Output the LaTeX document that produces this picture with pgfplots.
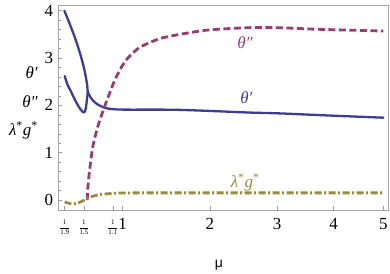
\documentclass[border=0pt]{standalone}
\usepackage{amsmath}
\usepackage{fontspec}
\setmainfont{Liberation Serif}
\newfontfamily\sansf{Liberation Sans}
\usepackage{pgfplots}
\pgfplotsset{compat=1.18}
\definecolor{mblue}{rgb}{0.24,0.24,0.6}
\definecolor{mmag}{rgb}{0.6,0.24,0.442}
\definecolor{molive}{rgb}{0.6,0.547,0.24}
\newcommand\fr[1]{{\fontsize{7}{8}\selectfont$\dfrac{\text{1}}{\text{#1}}$}}
\begin{document}
\begin{tikzpicture}
\useasboundingbox (-58.3bp,-64bp) rectangle (331.7bp,210bp);
\begin{axis}[
 at={(0,0)}, anchor=south west, scale only axis,
 width=329.7bp, height=205bp,
 x coord trafo/.code={\pgfmathparse{sqrt(#1)}},
 x coord inv trafo/.code={\pgfmathparse{(#1)^2}},
 xmin=0.4834, xmax=5.10, ymin=-0.21, ymax=4.12,
 xtick={0.526316,0.666667,0.909091,1,2,3,4,5},
 xticklabels={\fr{1.9},\fr{1.5},\fr{1.1},1,2,3,4,5},
 ytick={0,1,2,3,4},
 minor y tick num=4,
 tick pos=left, tick align=inside,
 major tick length=4bp, minor tick length=2.5bp,
 tick style={gray!80, line width=0.5bp},
 axis line style={gray!70, line width=0.6bp},
 tick label style={font=\fontsize{17}{20}\selectfont},
 /pgf/number format/assume math mode=true,
 xticklabel style={anchor=base, yshift=-19.5bp},
 yticklabel style={anchor=east, inner sep=0pt, xshift=-5bp},
 clip=false,
]
% theta' upper branch
\addplot[mblue, line width=2.3bp, smooth, line join=round, line cap=round] coordinates {
(0.5239,4.0) (0.5504,3.805) (0.5783,3.594) (0.6047,3.383) (0.6293,3.171) (0.6515,2.960) (0.6708,2.748) (0.6834,2.579) (0.6921,2.431) (0.6969,2.283)};
% theta' lower branch
\addplot[mblue, line width=2.3bp, smooth, line join=round, line cap=round] coordinates {
(0.5263,2.62) (0.5469,2.43) (0.5711,2.29) (0.5951,2.14) (0.6195,2.01) (0.6453,1.90) (0.6654,1.85) (0.6786,1.90) (0.6889,2.08) (0.6969,2.283)};
% theta' right branch
\addplot[mblue, line width=2.3bp, smooth, line join=round, line cap=round] coordinates {
(0.6969,2.283) (0.7242,2.15) (0.7653,2.04) (0.8359,1.95) (0.9098,1.92) (1.019,1.91) (1.3834,1.91) (1.6165,1.905) (2.041,1.88) (2.525,1.85) (3.054,1.83) (3.628,1.80) (4.265,1.77) (5.0,1.74)};
% theta''
\addplot[mmag, line width=2.8bp, smooth, dash pattern=on 7bp off 3.5bp] coordinates {
(0.6929,0.0) (0.6984,0.28) (0.7104,0.60) (0.7371,1.12) (0.7786,1.55) (0.8359,1.97) (0.8800,2.25) (0.9252,2.52) (0.9876,2.80) (1.0511,3.00) (1.1510,3.20) (1.2555,3.31) (1.4025,3.42) (1.6165,3.50) (1.8678,3.57) (2.041,3.60) (2.525,3.64) (3.054,3.64) (3.628,3.61) (4.265,3.59) (5.0,3.57)};
% lambda* g*
\addplot[molive, line width=2.8bp, smooth, dash pattern=on 7bp off 2.5bp on 2bp off 2.5bp] coordinates {
(0.5263,-0.04) (0.5827,-0.085) (0.6324,-0.05) (0.6708,0.0) (0.7242,0.07) (0.8075,0.12) (0.9098,0.14) (1.0,0.15) (1.3834,0.152) (2.5,0.152) (5.0,0.152)};
\node[mblue, font=\fontsize{17}{20}\selectfont] at (axis cs:2.52,2.16) {\textit{θ′}};
\node[mmag, font=\fontsize{17}{20}\selectfont] at (axis cs:2.50,3.32) {\textit{θ″}};
\node[molive, font=\fontsize{17}{20}\selectfont] at (axis cs:2.50,0.38) {\textit{λ}\textsuperscript{*}\textit{g}\textsuperscript{*}};
\node[anchor=east, align=right, inner sep=0pt, font=\fontsize{17}{28.5}\selectfont] at (axis description cs:-0.0616,0.522) {\textit{θ′}\\\textit{θ″}\\\textit{λ}\textsuperscript{*}\textit{g}\textsuperscript{*}};
\node[font=\sansf\fontsize{14}{16}\selectfont, yshift=-55bp] at (axis description cs:0.487,0) {μ};
\end{axis}
\end{tikzpicture}
\end{document}
